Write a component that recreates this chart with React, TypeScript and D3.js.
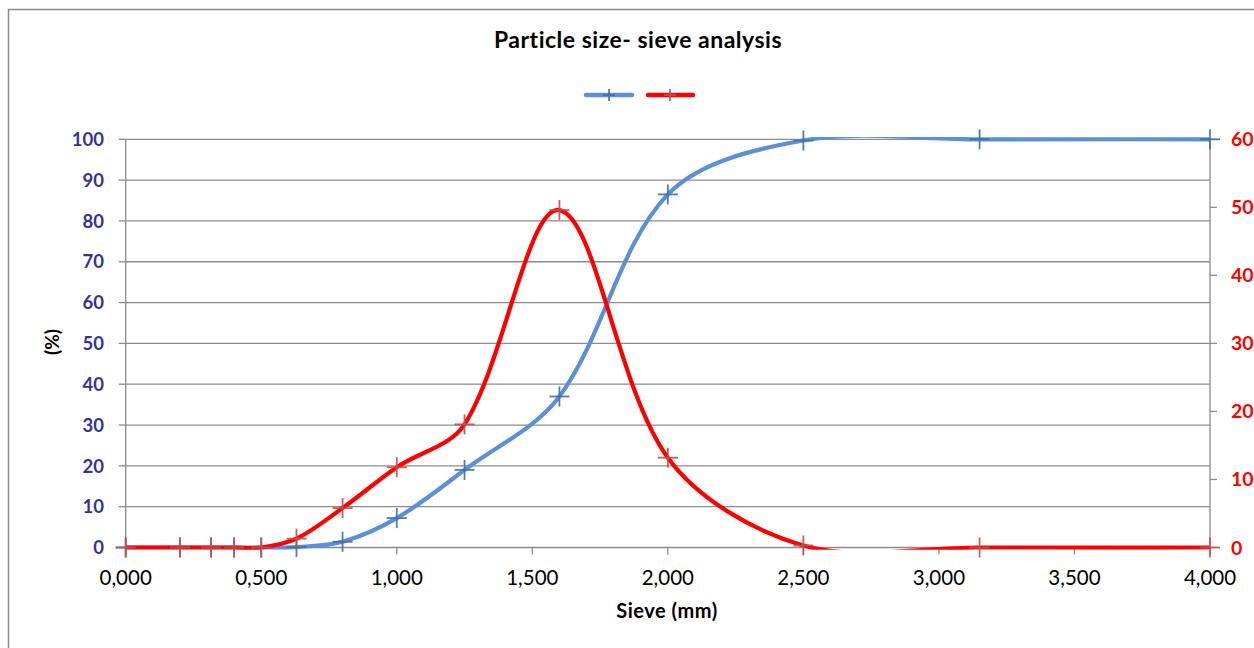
import React from "react";
import * as d3 from "d3";

const sieve = [0, 0.2, 0.315, 0.4, 0.5, 0.63, 0.8, 1.0, 1.25, 1.6, 2.0, 2.5, 3.15, 4.0];
const passing = [0, 0, 0, 0, 0, 0.1, 1.4, 7.2, 19.0, 37.0, 86.5, 99.7, 100, 100];
const retained = [0, 0, 0, 0, 0, 1.3, 5.8, 11.8, 18.1, 49.6, 13.2, 0.3, 0, 0];
const xTicks = [0, 0.5, 1, 1.5, 2, 2.5, 3, 3.5, 4];
const leftTicks = [0, 10, 20, 30, 40, 50, 60, 70, 80, 90, 100];
const rightTicks = [0, 10, 20, 30, 40, 50, 60];

const W = 1254;
const H = 648;
const FONT = "Lato, 'Open Sans', sans-serif";
const BLUE = "#5b8fd6";
const BLUE_MK = "#3f6fae";
const RED = "#ff0000";
const RED_MK = "#c0504d";
const GRID = "#8c8c8c";

const x = d3.scaleLinear().domain([0, 4]).range([125.7, 1210]);
const yL = d3.scaleLinear().domain([0, 100]).range([547.5, 139.3]);
const yR = d3.scaleLinear().domain([0, 60]).range([547.5, 139.3]);
const fmt = (v: number) => v.toFixed(3).replace(".", ",");

// Excel-style smoothed line (Bezier through points, in screen space)
function smoothPath(pts: [number, number][]): string {
  const p = d3.path();
  const f = 1 / 6;
  const dist = (a: [number, number], b: [number, number]) => Math.hypot(b[0] - a[0], b[1] - a[1]);
  p.moveTo(pts[0][0], pts[0][1]);
  for (let i = 0; i < pts.length - 1; i++) {
    const p0 = pts[i - 1] ?? pts[i];
    const p1 = pts[i];
    const p2 = pts[i + 1];
    const p3 = pts[i + 2] ?? pts[i + 1];
    const d01 = dist(p0, p1);
    const d12 = dist(p1, p2);
    const d23 = dist(p2, p3);
    const s1 = d01 + d12 > 0 ? (2 * d12) / (d01 + d12) : 1;
    const s2 = d12 + d23 > 0 ? (2 * d12) / (d12 + d23) : 1;
    const c1x = p1[0] + (p2[0] - p0[0]) * f * s1;
    const c1y = p1[1] + (p2[1] - p0[1]) * f * s1;
    const c2x = p2[0] - (p3[0] - p1[0]) * f * s2;
    const c2y = p2[1] - (p3[1] - p1[1]) * f * s2;
    p.bezierCurveTo(c1x, c1y, c2x, c2y, p2[0], p2[1]);
  }
  return p.toString();
}

function Plus({ cx, cy, color, s = 10 }: { cx: number; cy: number; color: string; s?: number }) {
  return (
    <g stroke={color} strokeWidth={1.8} opacity={0.9}>
      <line x1={cx - s} x2={cx + s} y1={cy} y2={cy} />
      <line x1={cx} x2={cx} y1={cy - s} y2={cy + s} />
    </g>
  );
}

export default function App() {
  const bluePts: [number, number][] = sieve.map((s, i) => [x(s), yL(passing[i])]);
  const redPts: [number, number][] = sieve.map((s, i) => [x(s), yR(retained[i])]);
  return (
    <svg width={W} height={H} style={{ position: "absolute", left: 0, top: 0 }} fontFamily={FONT}>
      <defs>
        <clipPath id="plotClip">
          <rect x={x(0) - 3} y={yL(100) - 2.2} width={x(4) - x(0) + 6} height={yL(0) - yL(100) + 4.4} />
        </clipPath>
      </defs>
      <rect x={0} y={0} width={W} height={H} fill="#fff" />
      <rect x={8.5} y={9.5} width={W + 20} height={H + 20} fill="none" stroke="#8a8a8a" strokeWidth={1.5} />
      <text x={638} y={48.3} textAnchor="middle" fontSize={23} letterSpacing={0.5} fontWeight="bold" fill="#000">
        Particle size- sieve analysis
      </text>
      {/* legend */}
      <line x1={586} x2={632} y1={95} y2={95} stroke={BLUE} strokeWidth={4.5} strokeLinecap="round" />
      <Plus cx={609} cy={95} color={BLUE_MK} s={6} />
      <line x1={648} x2={693} y1={95} y2={95} stroke={RED} strokeWidth={4.5} strokeLinecap="round" />
      <Plus cx={670} cy={95} color={RED_MK} s={6} />
      {/* gridlines */}
      {leftTicks.map((t) => (
        <line key={"g" + t} x1={x(0)} x2={x(4)} y1={yL(t)} y2={yL(t)} stroke={GRID} strokeWidth={1.3} />
      ))}
      {/* axes */}
      <line x1={x(0)} x2={x(0)} y1={yL(0)} y2={yL(100)} stroke={GRID} strokeWidth={1.3} />
      <line x1={x(4)} x2={x(4)} y1={yL(0)} y2={yL(100)} stroke={GRID} strokeWidth={1.3} />
      {leftTicks.map((t) => (
        <g key={"l" + t}>
          <line x1={x(0) - 7} x2={x(0)} y1={yL(t)} y2={yL(t)} stroke={GRID} strokeWidth={1.3} />
          <text x={104} y={yL(t)} dy="0.36em" textAnchor="end" fontSize={18.5} fontWeight="bold" fill="#333399">
            {t}
          </text>
        </g>
      ))}
      {rightTicks.map((t) => (
        <g key={"r" + t}>
          <line x1={x(4)} x2={x(4) + 7} y1={yR(t)} y2={yR(t)} stroke={GRID} strokeWidth={1.3} />
          <text x={1231} y={yR(t)} dy="0.36em" textAnchor="start" fontSize={19.5} fontWeight="bold" fill={RED}>
            {t}
          </text>
        </g>
      ))}
      {xTicks.map((t) => (
        <g key={"x" + t}>
          <line x1={x(t)} x2={x(t)} y1={yL(0)} y2={yL(0) + 7} stroke={GRID} strokeWidth={1.3} />
          <text x={x(t)} y={585} textAnchor="middle" fontSize={20.5} fill="#000">
            {fmt(t)}
          </text>
        </g>
      ))}
      <text x={667} y={618.3} textAnchor="middle" fontSize={20} letterSpacing={0.5} fontWeight="bold" fill="#000">
        Sieve (mm)
      </text>
      <text transform="translate(52,342) rotate(-90)" dy="0.36em" textAnchor="middle" fontSize={19} fontWeight="bold" fill="#000">
        (%)
      </text>
      {/* series */}
      <g clipPath="url(#plotClip)">
        <path d={smoothPath(bluePts)} fill="none" stroke={BLUE} strokeWidth={4.2} strokeLinejoin="round" />
      </g>
      {bluePts.map((p, i) => (
        <Plus key={"bp" + i} cx={p[0]} cy={p[1]} color={BLUE_MK} />
      ))}
      <g clipPath="url(#plotClip)">
        <path d={smoothPath(redPts)} fill="none" stroke={RED} strokeWidth={4.2} strokeLinejoin="round" />
      </g>
      {redPts.map((p, i) => (
        <Plus key={"rp" + i} cx={p[0]} cy={p[1]} color={RED_MK} />
      ))}
    </svg>
  );
}
